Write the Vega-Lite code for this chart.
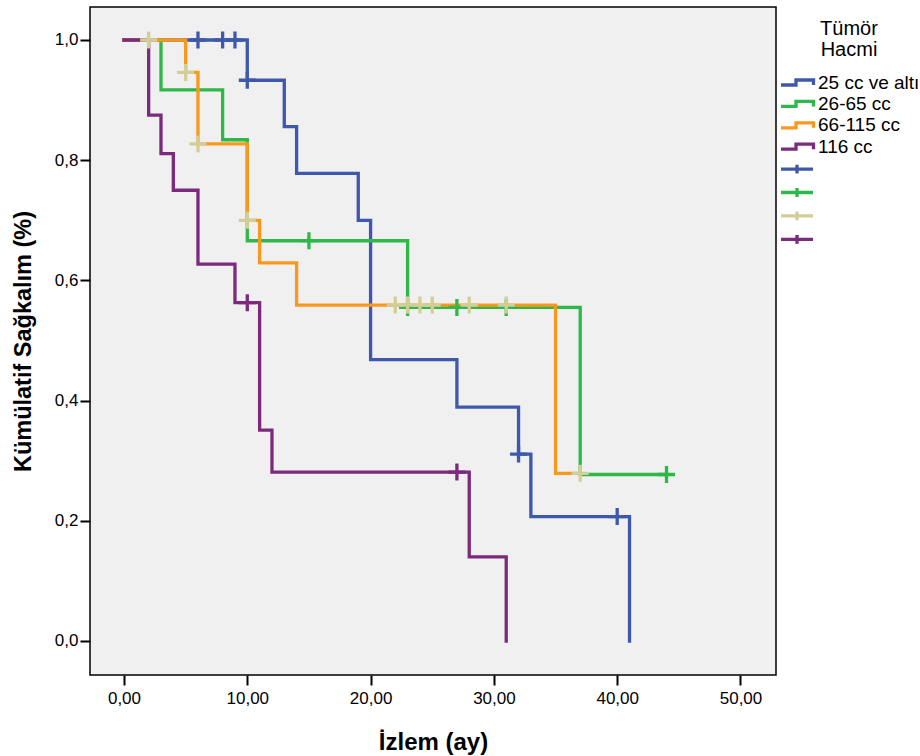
{
  "$schema": "https://vega.github.io/schema/vega-lite/v6.json",
  "autosize": {"type": "none"},
  "padding": {"left": 90, "top": 7, "right": 144, "bottom": 81},
  "width": 686,
  "height": 668,
  "background": "white",
  "config": {
    "view": {"fill": "#f0f0f0", "stroke": "#000", "strokeWidth": 1.5},
    "font": "Liberation Sans",
    "axis": {
      "domain": false, "grid": false, "tickColor": "#000", "tickWidth": 2, "tickSize": 10,
      "labelFont": "Liberation Sans", "labelFontSize": 17, "labelColor": "#000",
      "titleFont": "Liberation Sans", "titleFontWeight": "bold", "titleColor": "#000"
    }
  },
  "datasets": {
    "curves": [
      {"g": "25 cc ve altı", "t": 0, "s": 1},
      {"g": "25 cc ve altı", "t": 10, "s": 0.933},
      {"g": "25 cc ve altı", "t": 13, "s": 0.856},
      {"g": "25 cc ve altı", "t": 14, "s": 0.778},
      {"g": "25 cc ve altı", "t": 19, "s": 0.700},
      {"g": "25 cc ve altı", "t": 20, "s": 0.468},
      {"g": "25 cc ve altı", "t": 27, "s": 0.389},
      {"g": "25 cc ve altı", "t": 32, "s": 0.311},
      {"g": "25 cc ve altı", "t": 33, "s": 0.207},
      {"g": "25 cc ve altı", "t": 41, "s": 0},
      {"g": "26-65 cc", "t": 0, "s": 1},
      {"g": "26-65 cc", "t": 3, "s": 0.917},
      {"g": "26-65 cc", "t": 8, "s": 0.834},
      {"g": "26-65 cc", "t": 10, "s": 0.666},
      {"g": "26-65 cc", "t": 23, "s": 0.555},
      {"g": "26-65 cc", "t": 37, "s": 0.277},
      {"g": "26-65 cc", "t": 44, "s": 0.277},
      {"g": "66-115 cc", "t": 0, "s": 1},
      {"g": "66-115 cc", "t": 5, "s": 0.946},
      {"g": "66-115 cc", "t": 6, "s": 0.827},
      {"g": "66-115 cc", "t": 10, "s": 0.700},
      {"g": "66-115 cc", "t": 11, "s": 0.629},
      {"g": "66-115 cc", "t": 14, "s": 0.559},
      {"g": "66-115 cc", "t": 35, "s": 0.279},
      {"g": "66-115 cc", "t": 37, "s": 0.279},
      {"g": "116 cc", "t": 0, "s": 1},
      {"g": "116 cc", "t": 2, "s": 0.875},
      {"g": "116 cc", "t": 3, "s": 0.811},
      {"g": "116 cc", "t": 4, "s": 0.750},
      {"g": "116 cc", "t": 6, "s": 0.627},
      {"g": "116 cc", "t": 9, "s": 0.563},
      {"g": "116 cc", "t": 11, "s": 0.351},
      {"g": "116 cc", "t": 12, "s": 0.281},
      {"g": "116 cc", "t": 28, "s": 0.140},
      {"g": "116 cc", "t": 31, "s": 0}
    ],
    "censors": [
      {"g": "25 cc ve altı sansürlü", "t": 6, "s": 1},
      {"g": "25 cc ve altı sansürlü", "t": 8, "s": 1},
      {"g": "25 cc ve altı sansürlü", "t": 9, "s": 1},
      {"g": "25 cc ve altı sansürlü", "t": 10, "s": 0.933},
      {"g": "25 cc ve altı sansürlü", "t": 32, "s": 0.311},
      {"g": "25 cc ve altı sansürlü", "t": 40, "s": 0.207},
      {"g": "26-65 cc sansürlü", "t": 15, "s": 0.666},
      {"g": "26-65 cc sansürlü", "t": 23, "s": 0.555},
      {"g": "26-65 cc sansürlü", "t": 27, "s": 0.555},
      {"g": "26-65 cc sansürlü", "t": 31, "s": 0.555},
      {"g": "26-65 cc sansürlü", "t": 44, "s": 0.277},
      {"g": "66-115 cc sansürlü", "t": 2, "s": 1},
      {"g": "66-115 cc sansürlü", "t": 5, "s": 0.946},
      {"g": "66-115 cc sansürlü", "t": 6, "s": 0.827},
      {"g": "66-115 cc sansürlü", "t": 10, "s": 0.700},
      {"g": "66-115 cc sansürlü", "t": 22, "s": 0.559},
      {"g": "66-115 cc sansürlü", "t": 23, "s": 0.559},
      {"g": "66-115 cc sansürlü", "t": 24, "s": 0.559},
      {"g": "66-115 cc sansürlü", "t": 25, "s": 0.559},
      {"g": "66-115 cc sansürlü", "t": 28, "s": 0.559},
      {"g": "66-115 cc sansürlü", "t": 31, "s": 0.559},
      {"g": "66-115 cc sansürlü", "t": 37, "s": 0.279},
      {"g": "116 cc sansürlü", "t": 10, "s": 0.563},
      {"g": "116 cc sansürlü", "t": 27, "s": 0.281}
    ]
  },
  "encoding": {
    "x": {
      "field": "t", "type": "quantitative",
      "scale": {"domain": [-2.757, 52.88], "nice": false, "zero": false},
      "axis": {
        "values": [0, 10, 20, 30, 40, 50],
        "labelExpr": "replace(format(datum.value, '.2f'), '.', ',')",
        "title": "İzlem (ay)", "titleFontSize": 24, "labelPadding": 5, "titlePadding": 24
      }
    },
    "y": {
      "field": "s", "type": "quantitative",
      "scale": {"domain": [-0.0566, 1.0549], "nice": false, "zero": false},
      "axis": {
        "values": [0, 0.2, 0.4, 0.6, 0.8, 1],
        "labelExpr": "replace(format(datum.value, '.1f'), '.', ',')",
        "title": "Kümülatif Sağkalım (%)", "titleFontSize": 23.5, "labelPadding": 2, "titlePadding": 19
      }
    }
  },
  "layer": [
    {
      "data": {"name": "curves"},
      "transform": [{"filter": "datum.g === '25 cc ve altı'"}],
      "mark": {"type": "line", "interpolate": "step-after", "strokeWidth": 3.3, "strokeCap": "square"},
      "encoding": {
        "color": {
          "field": "g", "type": "nominal",
          "scale": {
            "domain": ["25 cc ve altı", "26-65 cc", "66-115 cc", "116 cc", "25 cc ve altı sansürlü", "26-65 cc sansürlü", "66-115 cc sansürlü", "116 cc sansürlü"],
            "range": ["#3e58ac", "#2eb848", "#f8991d", "#7b2a7c", "#3e58ac", "#2eb848", "#d3ce97", "#7b2a7c"]
          },
          "legend": {
            "orient": "none", "legendX": 689, "legendY": 12, "padding": 0,
            "title": ["Tümör", "Hacmi"], "titleFontSize": 20, "titleLineHeight": 21, "titleFont": "Liberation Sans",
            "titleFontWeight": "normal", "titleColor": "#000", "titleAnchor": "middle", "titlePadding": 12.5,
            "symbolSize": 256, "symbolStrokeWidth": 3.3,
            "labelFont": "Liberation Sans", "labelFontSize": 19, "labelColor": "#000", "labelOffset": 19, "rowPadding": 1.4,
            "labelLimit": 300,
            "labelExpr": "indexof(datum.value, 'sansürlü') >= 0 ? '' : datum.label",
            "encode": {
              "symbols": {
                "update": {
                  "shape": {"signal": "indexof(datum.value, 'sansürlü') >= 0 ? 'M-1,0L3,0M1,-0.55L1,0.55' : 'M-1,0.31L0.875,0.31L0.875,-0.31L3.06,-0.31L3.06,0.31'"},
                  "fill": {"value": "transparent"},
                  "strokeWidth": {"value": 3.3},
                  "opacity": {"value": 1}
                }
              }
            }
          }
        }
      }
    },
    {
      "data": {"name": "curves"},
      "transform": [{"filter": "datum.g === '26-65 cc'"}],
      "mark": {"type": "line", "interpolate": "step-after", "strokeWidth": 3.3, "strokeCap": "square"},
      "encoding": {"color": {"field": "g", "type": "nominal"}}
    },
    {
      "data": {"name": "curves"},
      "transform": [{"filter": "datum.g === '66-115 cc'"}],
      "mark": {"type": "line", "interpolate": "step-after", "strokeWidth": 3.3, "strokeCap": "square"},
      "encoding": {"color": {"field": "g", "type": "nominal"}}
    },
    {
      "data": {"name": "curves"},
      "transform": [{"filter": "datum.g === '116 cc'"}],
      "mark": {"type": "line", "interpolate": "step-after", "strokeWidth": 3.3, "strokeCap": "square"},
      "encoding": {"color": {"field": "g", "type": "nominal"}}
    },
    {
      "data": {"name": "censors"},
      "mark": {"type": "point", "shape": "M-1,0H1M0,-1V1", "size": 289, "strokeWidth": 3.3, "filled": false, "opacity": 1},
      "encoding": {"color": {"field": "g", "type": "nominal"}}
    }
  ]
}
